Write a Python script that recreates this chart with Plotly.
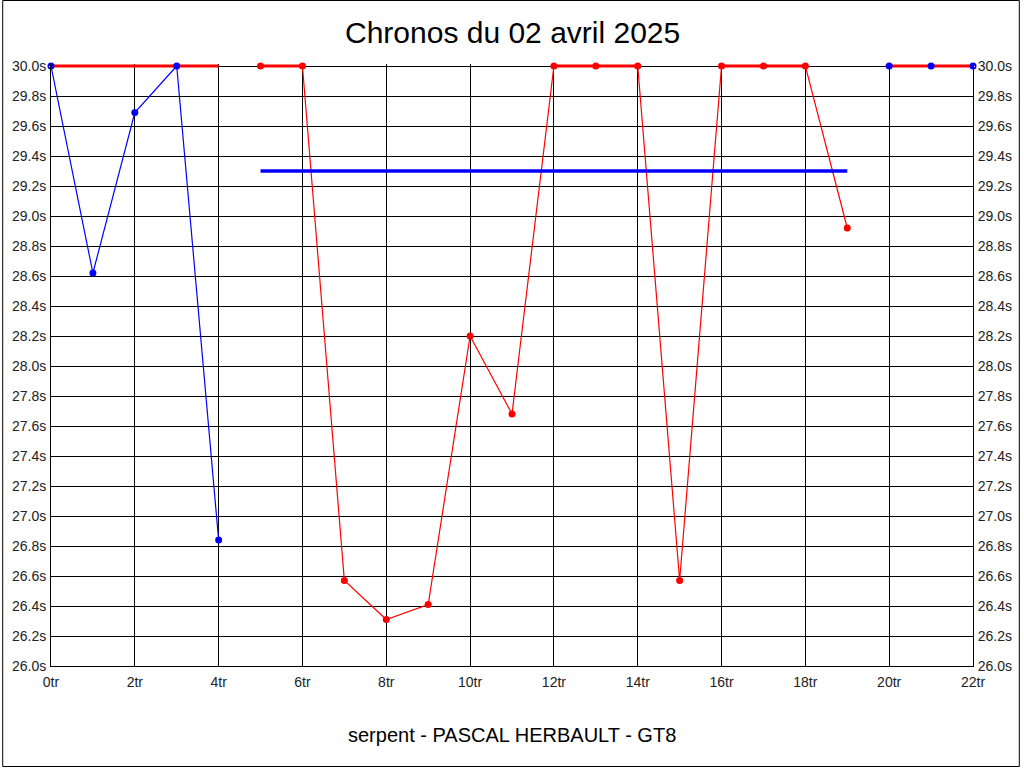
import plotly.graph_objects as go

# ---- data ----
laps = list(range(23))
blue_times = [30.0, 28.62, 29.69, 30.0, 26.84] + [None] * 15 + [30.0, 30.0, 30.0]
red_times = [None] * 5 + [30.0, 30.0, 26.57, 26.31, 26.41, 28.20, 27.68, 30.0, 30.0, 30.0,
                          26.57, 30.0, 30.0, 30.0, 28.92] + [None] * 3
cap_value = 30.0
cap_segments = [(0, 4), (5, 6), (12, 14), (16, 18), (20, 22)]
avg_value = 29.3
avg_from, avg_to = 5, 19
title_text = "Chronos du 02 avril 2025"
subtitle_text = "serpent - PASCAL HERBAULT - GT8"
x_ticks = list(range(0, 23, 2))
x_ticklabels = [f"{v}tr" for v in x_ticks]
y_ticks = [round(26.0 + 0.2 * i, 1) for i in range(21)]
y_ticklabels = [f"{v:.1f}s" for v in y_ticks]

RED = "#ff0000"
BLUE = "#0000ff"
FONT = "Liberation Sans, Arial, sans-serif"

W, H = 1024, 768
ML, MR, MT, MB = 49, 49, 64, 102
plot_w = W - ML - MR
plot_h = H - MT - MB
ymin = 26.0
ymax = ymin + plot_h / 150.0

cap_x, cap_y = [], []
for a, b in cap_segments:
    cap_x += [a, b, None]
    cap_y += [cap_value, cap_value, None]

fig = go.Figure()
# thin connecting lines
fig.add_trace(go.Scatter(x=laps, y=red_times, mode="lines",
                         line=dict(color=RED, width=1.2)))
fig.add_trace(go.Scatter(x=laps, y=blue_times, mode="lines",
                         line=dict(color=BLUE, width=1.2)))
# capped (>= 30s) segments
fig.add_trace(go.Scatter(x=cap_x, y=cap_y, mode="lines",
                         line=dict(color=RED, width=3), hoverinfo="skip"))
# average
fig.add_trace(go.Scatter(x=[avg_from, avg_to], y=[avg_value, avg_value], mode="lines",
                         line=dict(color=BLUE, width=3.5)))
# markers
fig.add_trace(go.Scatter(x=laps, y=red_times, mode="markers",
                         marker=dict(color=RED, size=7), cliponaxis=False))
fig.add_trace(go.Scatter(x=laps, y=blue_times, mode="markers",
                         marker=dict(color=BLUE, size=7), cliponaxis=False))
# invisible trace for right axis
fig.add_trace(go.Scatter(x=[None], y=[None], yaxis="y2", showlegend=False))

tickfont = dict(family=FONT, size=14, color="#222222")
fig.update_layout(
    width=W, height=H,
    margin=dict(l=ML, r=MR, t=MT, b=MB, pad=0),
    paper_bgcolor="white", plot_bgcolor="white",
    showlegend=False,
    xaxis=dict(range=[0, 22], tickvals=x_ticks, ticktext=x_ticklabels,
               showgrid=True, gridcolor="black", gridwidth=1,
               showline=True, linecolor="black", linewidth=1,
               zeroline=False, ticks="outside", ticklen=3, tickcolor="white",
               tickfont=tickfont),
    yaxis=dict(range=[ymin, ymax], tickvals=y_ticks, ticktext=y_ticklabels,
               showgrid=True, gridcolor="black", gridwidth=1,
               showline=True, linecolor="black", linewidth=1,
               zeroline=False, ticks="outside", ticklen=1, tickcolor="white",
               tickfont=tickfont),
    yaxis2=dict(range=[ymin, ymax], tickvals=y_ticks, ticktext=y_ticklabels,
                overlaying="y", side="right", showgrid=False,
                showline=True, linecolor="black", linewidth=1,
                zeroline=False, ticks="outside", ticklen=1, tickcolor="white",
                tickfont=tickfont),
    annotations=[
        dict(text=title_text, xref="paper", yref="paper", x=0.5,
             y=(H - MB - 33) / plot_h, xanchor="center", yanchor="middle",
             showarrow=False, font=dict(family=FONT, size=30, color="black")),
        dict(text=subtitle_text, xref="paper", yref="paper", x=0.5,
             y=(H - MB - 735) / plot_h, xanchor="center", yanchor="middle",
             showarrow=False, font=dict(family=FONT, size=20, color="black")),
    ],
    shapes=[
        dict(type="rect", xref="paper", yref="paper",
             x0=(0.5 - ML) / plot_w, x1=(W - 2.5 - ML) / plot_w,
             y0=(H - MB - (H - 1.5)) / plot_h, y1=(H - MB - 0.5) / plot_h,
             line=dict(color="black", width=1), layer="above"),
    ],
)

fig.write_html("out.html", config={"displayModeBar": False},
               post_script="document.body.style.margin='0';document.body.style.overflow='hidden';")
